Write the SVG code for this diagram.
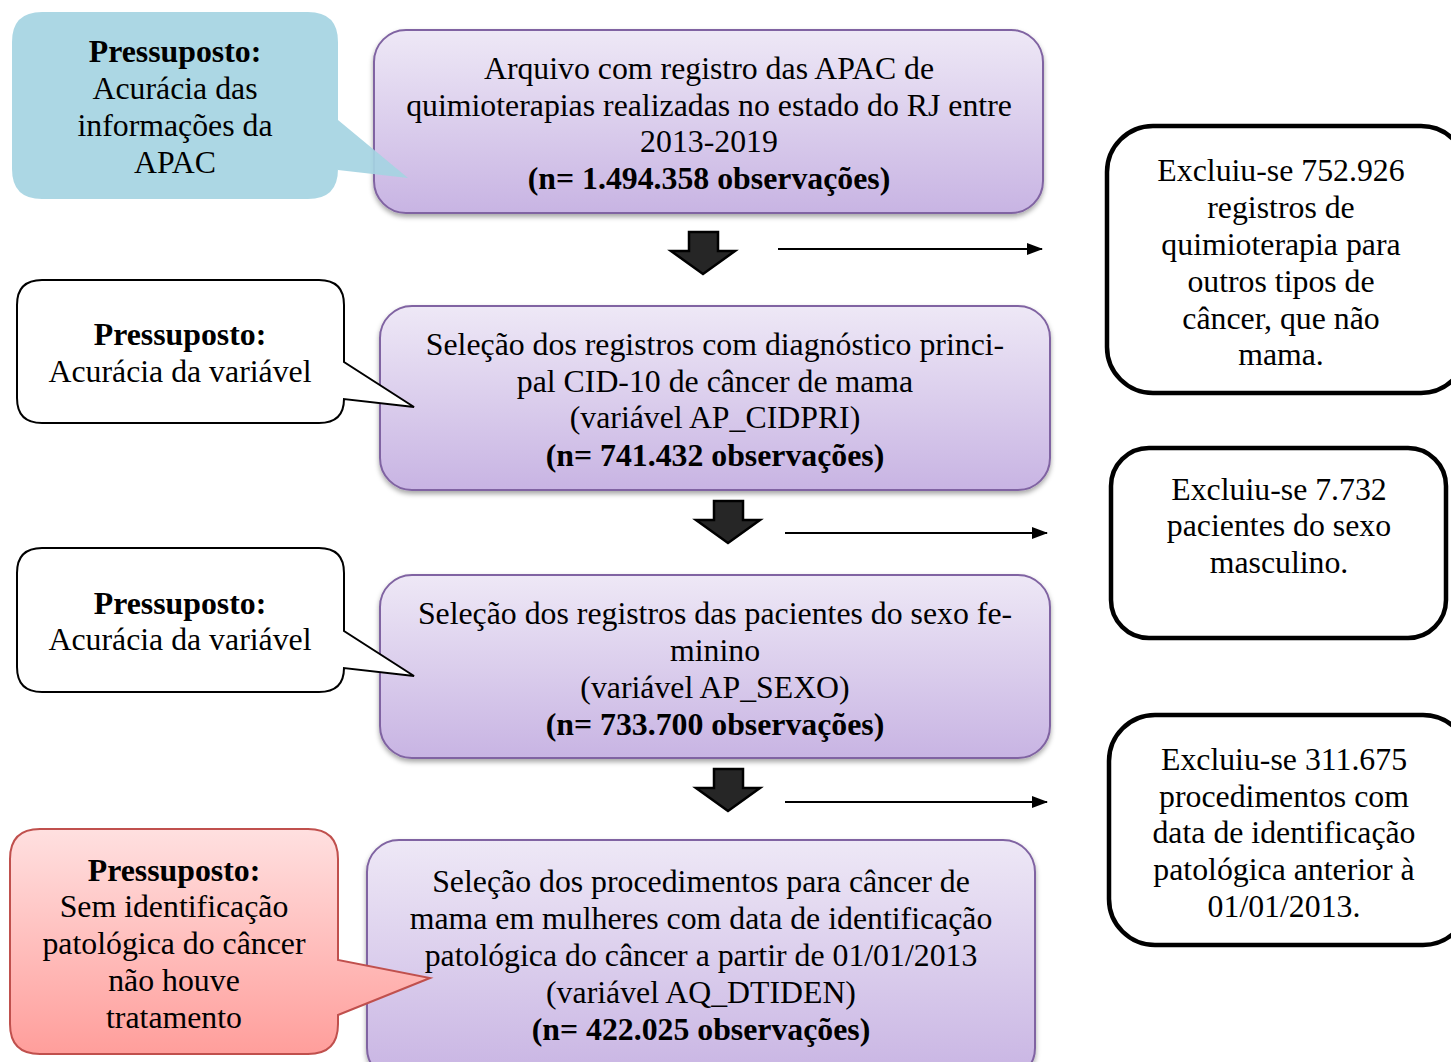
<svg xmlns="http://www.w3.org/2000/svg" width="1451" height="1062" viewBox="0 0 1451 1062">
<style>
text{font-family:"Liberation Serif","Times New Roman",serif;font-size:31.8px;fill:#000;text-anchor:middle}
.b{font-weight:bold}
.proc{fill:url(#gp);stroke:#8064a2;stroke-width:2;filter:url(#sh)}
.exc{fill:#fff;stroke:#000;stroke-width:4.5}
.wc{fill:#fff;stroke:#000;stroke-width:2}
.blk{fill:#262626;stroke:#000;stroke-width:2.5}
.ln{stroke:#000;stroke-width:2;fill:none;marker-end:url(#ah)}
</style>
<defs>
<linearGradient id="gp" x1="0" y1="0" x2="0" y2="1"><stop offset="0" stop-color="#eee8f6"/><stop offset="1" stop-color="#c8b4e3"/></linearGradient>
<linearGradient id="gr" x1="0" y1="0" x2="0" y2="1"><stop offset="0" stop-color="#ffe0e0"/><stop offset="1" stop-color="#ff9e9b"/></linearGradient>
<filter id="sh" x="-5%" y="-5%" width="110%" height="120%"><feDropShadow dx="0" dy="3" stdDeviation="2.5" flood-color="#000" flood-opacity="0.35"/></filter>
<marker id="ah" viewBox="0 0 16 12" refX="15" refY="6" markerWidth="16" markerHeight="12" markerUnits="userSpaceOnUse" orient="auto"><path d="M0,0 L16,6 L0,12 z" fill="#000"/></marker>
</defs>

<g id="proc1"><rect class="proc" x="374" y="30" width="669" height="183" rx="32"/>
<text x="709" y="79">Arquivo com registro das APAC de</text>
<text x="709" y="116">quimioterapias realizadas no estado do RJ entre</text>
<text x="709" y="152">2013-2019</text>
<text x="709" y="189" class="b">(n= 1.494.358 observações)</text></g>

<g id="proc2"><rect class="proc" x="380" y="306" width="670" height="184" rx="32"/>
<text x="715" y="355">Seleção dos registros com diagnóstico princi-</text>
<text x="715" y="392">pal CID-10 de câncer de mama</text>
<text x="715" y="428">(variável AP_CIDPRI)</text>
<text x="715" y="466" class="b">(n= 741.432 observações)</text></g>

<g id="proc3"><rect class="proc" x="380" y="575" width="670" height="183" rx="32"/>
<text x="715" y="624">Seleção dos registros das pacientes do sexo fe-</text>
<text x="715" y="661">minino</text>
<text x="715" y="698">(variável AP_SEXO)</text>
<text x="715" y="735" class="b">(n= 733.700 observações)</text></g>

<g id="proc4"><rect class="proc" x="367" y="840" width="668" height="240" rx="32"/>
<text x="701" y="892">Seleção dos procedimentos para câncer de</text>
<text x="701" y="929">mama em mulheres com data de identificação</text>
<text x="701" y="966">patológica do câncer a partir de 01/01/2013</text>
<text x="701" y="1003">(variável AQ_DTIDEN)</text>
<text x="701" y="1040" class="b">(n= 422.025 observações)</text></g>

<g id="callout1"><path d="M42,12 H308 Q338,12 338,42 V120 L408,178 L338,170 V169 Q338,199 308,199 H42 Q12,199 12,169 V42 Q12,12 42,12 Z" fill="#a5d4e2" fill-opacity="0.92"/>
<text x="175" y="62" class="b">Pressuposto:</text>
<text x="175" y="99">Acurácia das</text>
<text x="175" y="136">informações da</text>
<text x="175" y="173">APAC</text></g>

<g id="callout2"><path d="M42,280 H319 Q344,280 344,305 V362 L414,407 L344,399 Q344,423 319,423 H42 Q17,423 17,398 V305 Q17,280 42,280 Z" class="wc"/>
<text x="180" y="345" class="b">Pressuposto:</text>
<text x="180" y="382">Acurácia da variável</text></g>

<g id="callout3"><path d="M42,548 H319 Q344,548 344,573 V631 L414,676 L344,668 Q344,692 319,692 H42 Q17,692 17,667 V573 Q17,548 42,548 Z" class="wc"/>
<text x="180" y="614" class="b">Pressuposto:</text>
<text x="180" y="650">Acurácia da variável</text></g>

<g id="callout4"><path d="M40,829 H308 Q338,829 338,859 V960 L430,978 L338,1015 V1024 Q338,1054 308,1054 H40 Q10,1054 10,1024 V859 Q10,829 40,829 Z" fill="url(#gr)" stroke="#c0504d" stroke-width="2"/>
<text x="174" y="881" class="b">Pressuposto:</text>
<text x="174" y="917">Sem identificação</text>
<text x="174" y="954">patológica do câncer</text>
<text x="174" y="991">não houve</text>
<text x="174" y="1028">tratamento</text></g>

<g id="excl1"><rect class="exc" x="1107" y="126" width="360" height="267" rx="46"/>
<text x="1281" y="181">Excluiu-se 752.926</text>
<text x="1281" y="218">registros de</text>
<text x="1281" y="255">quimioterapia para</text>
<text x="1281" y="292">outros tipos de</text>
<text x="1281" y="329">câncer, que não</text>
<text x="1281" y="365">mama.</text></g>

<g id="excl2"><rect class="exc" x="1111" y="448" width="335" height="190" rx="38"/>
<text x="1279" y="500">Excluiu-se 7.732</text>
<text x="1279" y="536">pacientes do sexo</text>
<text x="1279" y="573">masculino.</text></g>

<g id="excl3"><rect class="exc" x="1109" y="715" width="360" height="230" rx="46"/>
<text x="1284" y="770">Excluiu-se 311.675</text>
<text x="1284" y="807">procedimentos com</text>
<text x="1284" y="843">data de identificação</text>
<text x="1284" y="880">patológica anterior à</text>
<text x="1284" y="917">01/01/2013.</text></g>

<g id="connectors">
<path class="blk" d="M689,232 H718 V251 H735 L703,274 L671,251 H689 Z"/>
<path class="blk" d="M714,501 H743 V520 H760 L728,543 L696,520 H714 Z"/>
<path class="blk" d="M714,769 H743 V788 H760 L728,811 L696,788 H714 Z"/>
<line class="ln" x1="778" y1="249" x2="1042" y2="249"/>
<line class="ln" x1="785" y1="533" x2="1047" y2="533"/>
<line class="ln" x1="785" y1="802" x2="1047" y2="802"/>
</g>
</svg>
